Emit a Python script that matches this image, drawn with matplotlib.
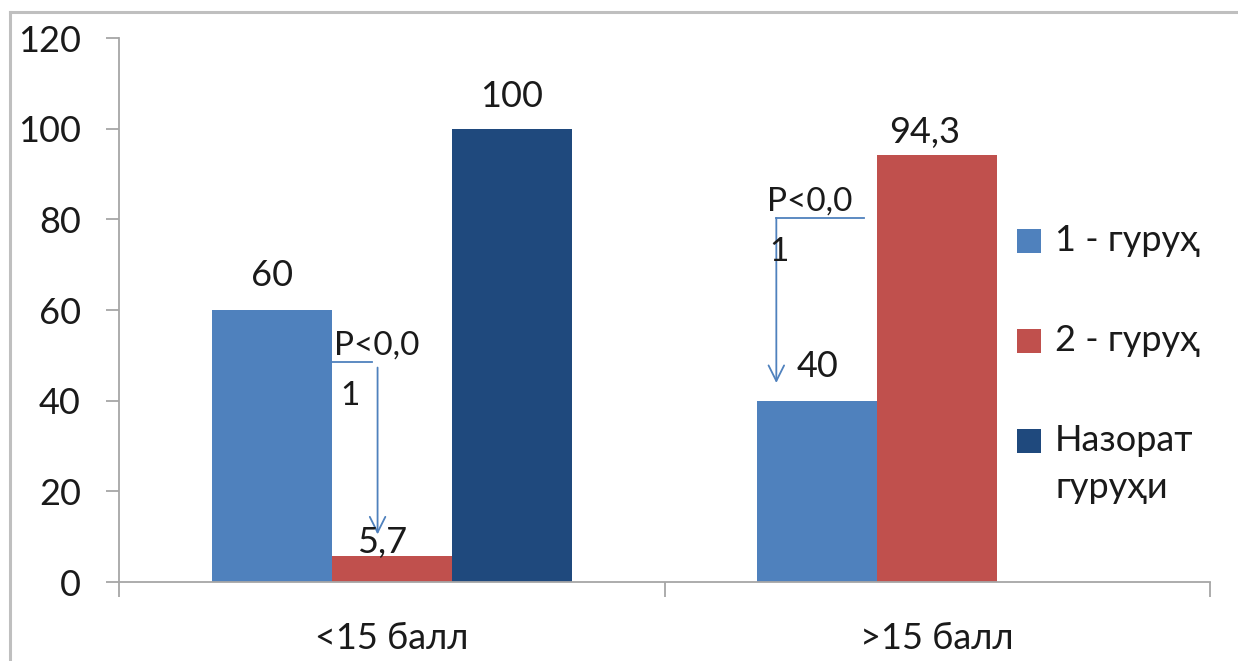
import matplotlib
matplotlib.use("Agg")
import matplotlib.pyplot as plt
from matplotlib.lines import Line2D
from matplotlib.patches import Rectangle

plt.rcParams['font.family'] = ['Lato', 'Open Sans', 'DejaVu Sans']

categories = ["<15 балл", ">15 балл"]
series_names = ["1 - гуруҳ", "2 - гуруҳ", "Назорат\nгуруҳи"]
group1 = [60, 40]
group2 = [5.7, 94.3]
control = [100, 0]
series_values = [group1, group2, control]
colors = ["#4F81BD", "#C0504D", "#1F497D"]
y_ticks = [0, 20, 40, 60, 80, 100, 120]

W, H = 1238, 661
fig = plt.figure(figsize=(W / 100, H / 100), dpi=100)
ax = fig.add_axes([119 / W, 1 - 582 / H, (1210 - 119) / W, (582 - 38) / H])

bar_w = 0.22
offsets = [-bar_w, 0.0, bar_w]
xs = list(range(len(categories)))
text_color = "#1a1a1a"
fs = 26

for vals, off, col in zip(series_values, offsets, colors):
    pos = [x + off for x in xs]
    ax.bar(pos, vals, width=bar_w, color=col, linewidth=0, zorder=2)

# value labels (offsets in points from the bar top)
label_pos = {
    (0, 0): (0, 25), (0, 1): (-7, 9.5), (0, 2): (0, 23),
    (1, 0): (0, 24.5), (1, 1): (-9, 16),
}
for si, (vals, off) in enumerate(zip(series_values, offsets)):
    for ci, v in enumerate(vals):
        if v == 0:
            continue
        txt = f"{v:g}".replace(".", ",")
        dx, dy = label_pos.get((ci, si), (0, 24))
        ax.annotate(txt, (ci + off, v), xytext=(dx, dy), textcoords="offset points",
                    ha="center", va="center", fontsize=fs, color=text_color, zorder=4)

ax.set_xlim(-0.5, 1.5)
ax.set_ylim(0, 120)
ax.set_yticks(y_ticks)
ax.set_yticklabels([str(t) for t in y_ticks])

# category boundary ticks and centred labels
ax.set_xticks([-0.5, 0.5, 1.5])
ax.set_xticklabels(["", "", ""])
ax.set_xticks(xs, minor=True)
ax.set_xticklabels(categories, minor=True)
ax.tick_params(axis="x", which="minor", length=0, pad=29, labelsize=fs, labelcolor=text_color)
ax.tick_params(axis="x", which="major", length=11, width=1.3, color="#A6A6A6")
ax.tick_params(axis="y", length=9.5, width=1.3, color="#A6A6A6", pad=18,
               labelsize=fs, labelcolor=text_color)

for s in ("top", "right"):
    ax.spines[s].set_visible(False)
for s in ("left", "bottom"):
    ax.spines[s].set_color("#A6A6A6")
    ax.spines[s].set_linewidth(1.3)

# significance call-outs
arrow_col = "#4F81BD"
ax.plot([-0.113, -0.037], [48.5, 48.5], color=arrow_col, lw=1.3, zorder=3)
ax.annotate("", xy=(-0.026, 10.5), xytext=(-0.026, 47.3),
            arrowprops=dict(arrowstyle="->", color=arrow_col, lw=1.3,
                            mutation_scale=28, shrinkA=0, shrinkB=0), zorder=3)
ax.text(-0.105, 48.8, "P<0,0", ha="left", va="bottom", fontsize=fs - 2,
        color=text_color, zorder=4)
ax.text(-0.095, 41.0, "1", ha="left", va="center", fontsize=fs - 2,
        color=text_color, zorder=4)

ax.plot([0.705, 0.866], [80.3, 80.3], color=arrow_col, lw=1.3, zorder=3)
ax.annotate("", xy=(0.705, 43.9), xytext=(0.705, 80.3),
            arrowprops=dict(arrowstyle="->", color=arrow_col, lw=1.3,
                            mutation_scale=28, shrinkA=0, shrinkB=0), zorder=3)
ax.text(0.687, 80.6, "P<0,0", ha="left", va="bottom", fontsize=fs - 2,
        color=text_color, zorder=4)
ax.text(0.692, 72.7, "1", ha="left", va="center", fontsize=fs - 2,
        color=text_color, zorder=4)

# legend, laid out by hand so the marker lines up with the first text line
leg_x, leg_rows = 1017, [241, 341, 441]
sq = 24
for name, col, yc in zip(series_names, colors, leg_rows):
    fig.add_artist(Rectangle(((leg_x) / W, 1 - (yc + sq / 2) / H), sq / W, sq / H,
                             transform=fig.transFigure, facecolor=col, edgecolor="none"))
    fig.text((leg_x + 38) / W, 1 - (yc - 17) / H, name, ha="left", va="top",
             fontsize=fs, color=text_color, linespacing=1.5)

# outer frame
frame_col = "#BFBFBF"
fig.add_artist(Line2D([10 / W, 1.0], [1 - 12 / H, 1 - 12 / H], transform=fig.transFigure,
                      color=frame_col, lw=2.2))
fig.add_artist(Line2D([10 / W, 10 / W], [0.0, 1 - 12 / H], transform=fig.transFigure,
                      color=frame_col, lw=2.2))

fig.savefig("out.png", dpi=100, facecolor="white")
